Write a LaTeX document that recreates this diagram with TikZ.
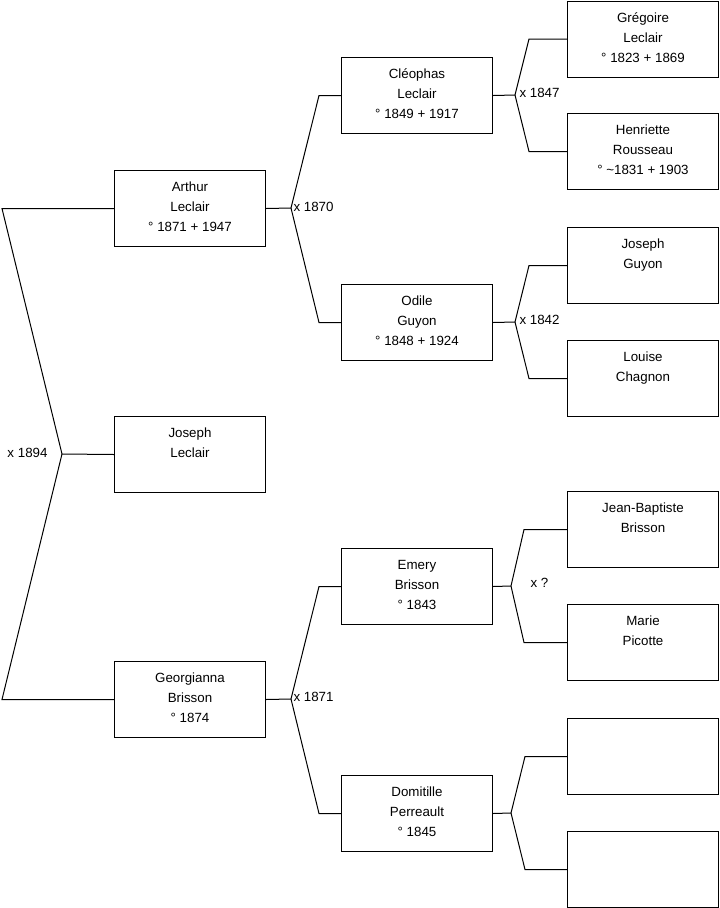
\documentclass[tikz,border=0pt]{standalone}
\usepackage{fontspec}
\setmainfont{Liberation Sans}
\usetikzlibrary{positioning}

\begin{document}
\begin{tikzpicture}[x=0.75pt,y=-0.75pt,line width=0.75pt,
 font=\fontsize{10}{15}\selectfont,
 person/.style={draw,anchor=north west,minimum width=113.25pt,minimum height=57pt,inner sep=0pt},
 names/.style={anchor=north,align=center,inner sep=0pt,yshift=-8.6pt},
 wed/.style={anchor=west,inner sep=0pt}]
\useasboundingbox (0,0) rectangle (719,908);
% children
\node[person] (arthur) at (114,170) {};
\node[person] (joseph) at (114,416) {};
\node[person] (georgianna) at (114,661) {};
\node[names] (arthur-n) at (arthur.north) {Arthur\\Leclair\\° 1871 + 1947};
\node[names] (joseph-n) at (joseph.north) {Joseph\\Leclair};
\node[names] (georgianna-n) at (georgianna.north) {Georgianna\\Brisson\\° 1874};
% parents
\node[person] (cleophas) at (341,57) {};
\node[person] (odile) at (341,284) {};
\node[person] (emery) at (341,548) {};
\node[person] (domitille) at (341,775) {};
\node[names] (cleophas-n) at (cleophas.north) {Cléophas\\Leclair\\° 1849 + 1917};
\node[names] (odile-n) at (odile.north) {Odile\\Guyon\\° 1848 + 1924};
\node[names] (emery-n) at (emery.north) {Emery\\Brisson\\° 1843};
\node[names] (domitille-n) at (domitille.north) {Domitille\\Perreault\\° 1845};
% grandparents
\node[person] (gregoire) at (567,0.5) {};
\node[person] (henriette) at (567,113) {};
\node[person] (josephg) at (567,227) {};
\node[person] (louise) at (567,340) {};
\node[person] (jeanbaptiste) at (567,491) {};
\node[person] (marie) at (567,604) {};
\node[person] (unknowna) at (567,718) {};
\node[person] (unknownb) at (567,831) {};
\node[names] (gregoire-n) at (gregoire.north) {Grégoire\\Leclair\\° 1823 + 1869};
\node[names] (henriette-n) at (henriette.north) {Henriette\\Rousseau\\° \textasciitilde1831 + 1903};
\node[names] (josephg-n) at (josephg.north) {Joseph\\Guyon};
\node[names] (louise-n) at (louise.north) {Louise\\Chagnon};
\node[names] (jeanbaptiste-n) at (jeanbaptiste.north) {Jean-Baptiste\\Brisson};
\node[names] (marie-n) at (marie.north) {Marie\\Picotte};
% forks
\coordinate (root) at (62,454);
\coordinate (f1) at (291,208);
\coordinate (f2) at (515,95);
\coordinate (f3) at (515,322);
\coordinate (f4) at (291,699);
\coordinate (f5) at (511,586);
\coordinate (f6) at (511,813);
\draw (arthur.west) -- (2,0 |- arthur.west) -- (root) -- (joseph.west);
\draw (root) -- (2,0 |- georgianna.west) -- (georgianna.west);
\draw (arthur.east) -- (f1) -- (319,0 |- cleophas.west) -- (cleophas.west);
\draw (f1) -- (319,0 |- odile.west) -- (odile.west);
\draw (cleophas.east) -- (f2) -- (529,0 |- gregoire.west) -- (gregoire.west);
\draw (f2) -- (529,0 |- henriette.west) -- (henriette.west);
\draw (odile.east) -- (f3) -- (529,0 |- josephg.west) -- (josephg.west);
\draw (f3) -- (529,0 |- louise.west) -- (louise.west);
\draw (georgianna.east) -- (f4) -- (319,0 |- emery.west) -- (emery.west);
\draw (f4) -- (319,0 |- domitille.west) -- (domitille.west);
\draw (emery.east) -- (f5) -- (524,0 |- jeanbaptiste.west) -- (jeanbaptiste.west);
\draw (f5) -- (524,0 |- marie.west) -- (marie.west);
\draw (domitille.east) -- (f6) -- (525,0 |- unknowna.west) -- (unknowna.west);
\draw (f6) -- (525,0 |- unknownb.west) -- (unknownb.west);
% marriages
\node[wed] (m1894) at (7,453) {x 1894};
\node[wed] (m1870) at (293,207) {x 1870};
\node[wed] (m1847) at (519,93) {x 1847};
\node[wed] (m1842) at (519,320) {x 1842};
\node[wed] (m1871) at (293,697) {x 1871};
\node[wed] (munk) at (530,583) {x ?};
\end{tikzpicture}
\end{document}
